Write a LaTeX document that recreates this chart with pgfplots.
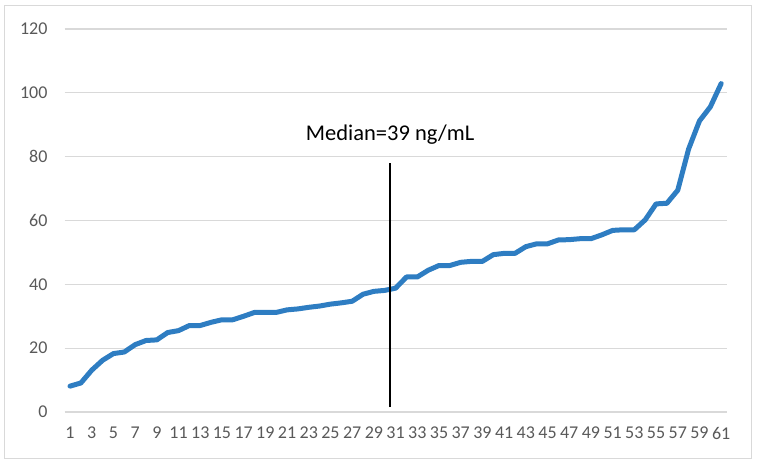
\documentclass[border=0pt]{standalone}
\usepackage{fontspec}
\setmainfont{Carlito}
\usepackage{pgfplots}
\pgfplotsset{compat=1.18}

\definecolor{excelblue}{RGB}{46,125,194}
\definecolor{gridgray}{RGB}{217,217,217}
\definecolor{labelgray}{RGB}{89,89,89}

\begin{document}
\begin{tikzpicture}
% page = 757 x 464, plot box lower left corner at the origin
\useasboundingbox (-64.6pt,-52pt) rectangle (692.4pt,412pt);
\draw[gridgray, line width=1pt] (-59.6pt,-46pt) rectangle (686.4pt,406pt);
\begin{axis}[
    at={(0,0)}, anchor=south west,
    scale only axis,
    width=662pt, height=383pt,
    xmin=0.5, xmax=61.5,
    ymin=0, ymax=120,
    xtick={1,3,...,61},
    ytick={0,20,...,120},
    ymajorgrids,
    grid style={gridgray, line width=1.2pt},
    axis line style={draw=none},
    major tick length=0pt,
    /pgf/number format/assume math mode=true,
    ticklabel style={font=\fontsize{18}{18}\selectfont, text=labelgray, inner sep=0pt},
    xticklabel style={anchor=center, yshift=-21pt},
    yticklabel style={anchor=east, xshift=-17pt},
    clip=false,
]
\addplot[excelblue, line width=5pt, line join=round, line cap=round] coordinates {
    (1,8.1) (2,9.1) (3,13.1) (4,16.2) (5,18.3) (6,18.8) (7,21.1) (8,22.4)
    (9,22.6) (10,24.9) (11,25.5) (12,27.1) (13,27.1) (14,28.1) (15,28.9)
    (16,28.9) (17,30.0) (18,31.2) (19,31.2) (20,31.2) (21,32.0) (22,32.3)
    (23,32.8) (24,33.2) (25,33.8) (26,34.2) (27,34.7) (28,36.9) (29,37.8)
    (30,38.1) (31,38.8) (32,42.3) (33,42.3) (34,44.4) (35,45.9) (36,45.9)
    (37,46.9) (38,47.2) (39,47.2) (40,49.3) (41,49.7) (42,49.7) (43,51.8)
    (44,52.7) (45,52.7) (46,53.9) (47,54.0) (48,54.3) (49,54.3) (50,55.5)
    (51,56.9) (52,57.1) (53,57.1) (54,60.2) (55,65.2) (56,65.4) (57,69.5)
    (58,82.4) (59,91.2) (60,95.6) (61,102.9)
};
% median marker
\addplot[black, line width=1.5pt] coordinates {(30.5,1.5) (30.5,78)};
\node[font=\fontsize{22.5}{22.5}\selectfont] at (axis cs:30.5,87) {Median=39 ng/mL};
\end{axis}
\end{tikzpicture}
\end{document}
